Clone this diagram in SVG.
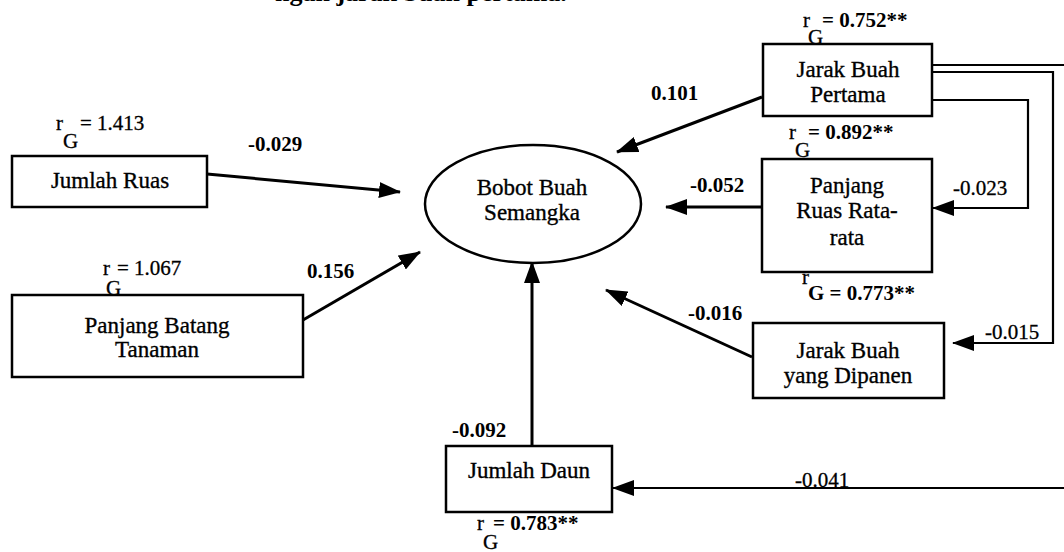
<svg xmlns="http://www.w3.org/2000/svg" width="1064" height="552" viewBox="0 0 1064 552">
<style>
.box{fill:#fff;stroke:#000;stroke-width:2.5}
.t{font-family:"Liberation Serif","Times New Roman",serif;font-size:23px;fill:#000;stroke:#000;stroke-width:0.35;text-anchor:middle}
.n{font-family:"Liberation Serif","Times New Roman",serif;font-size:21px;fill:#000;font-weight:bold}
.nn{font-family:"Liberation Serif","Times New Roman",serif;font-size:21px;fill:#000;stroke:#000;stroke-width:0.3}
.r{font-family:"Liberation Serif","Times New Roman",serif;font-size:21px;fill:#000;stroke:#000;stroke-width:0.3}
.rb{font-family:"Liberation Serif","Times New Roman",serif;font-size:21px;fill:#000;font-weight:bold}
.arr{fill:none;stroke:#000;stroke-width:3;marker-end:url(#ah)}
.arr2{fill:none;stroke:#000;stroke-width:2.2;marker-end:url(#ah)}
</style>
<defs>
<marker id="ah" markerUnits="userSpaceOnUse" markerWidth="22" markerHeight="16" refX="21" refY="8" orient="auto">
<path d="M0,0 L22,8 L0,16 z" fill="#000"/>
</marker>
</defs>
<rect width="1064" height="552" fill="#fff"/>
<text x="275" y="1" style="font-family:'Liberation Serif',serif;font-size:26px;font-weight:bold;fill:#000">ngan jarak buah pertama.</text>

<g id="connectors">
<path class="arr" d="M207,174 L400,192"/>
<path class="arr" d="M303,320 L420,252"/>
<path class="arr" d="M532,446 L532,262"/>
<path class="arr" d="M762,97 L617,152"/>
<path class="arr" d="M762,207 L666,207"/>
<path class="arr" d="M752,357 L606,290"/>
<path class="arr2" d="M932,100 L1028,100 L1028,208 L933,208"/>
<path class="arr2" d="M932,72 L1053,72 L1053,343 L953,343"/>
<path class="arr2" d="M932,65 L1070,65 L1070,488 L613,488"/>
<text class="n" x="248" y="151">-0.029</text>
<text class="n" x="307" y="278">0.156</text>
<text class="n" x="651" y="100">0.101</text>
<text class="n" x="690" y="192">-0.052</text>
<text class="n" x="688" y="320">-0.016</text>
<text class="n" x="452" y="437">-0.092</text>
<text class="nn" x="953" y="195">-0.023</text>
<text class="nn" x="985" y="339">-0.015</text>
<text class="nn" x="795" y="487">-0.041</text>
</g>

<g id="bobot">
<ellipse cx="533" cy="204" rx="108" ry="59" fill="#fff" stroke="#000" stroke-width="2.5"/>
<text class="t" x="532" y="195">Bobot Buah</text>
<text class="t" x="532" y="220">Semangka</text>
</g>

<g id="jumlah-ruas">
<rect class="box" x="12" y="156" width="195" height="51"/>
<text class="t" x="110" y="188">Jumlah Ruas</text>
<text class="r" x="56" y="130">r</text>
<text class="r" x="63" y="148">G</text>
<text class="r" x="80" y="130">= 1.413</text>
</g>

<g id="panjang-batang">
<rect class="box" x="12" y="295" width="291" height="82"/>
<text class="t" x="157" y="333">Panjang Batang</text>
<text class="t" x="157" y="357">Tanaman</text>
<text class="r" x="103" y="275">r</text>
<text class="r" x="106" y="295">G</text>
<text class="r" x="117" y="275">= 1.067</text>
</g>

<g id="jarak-buah-pertama">
<rect class="box" x="763" y="44" width="169" height="72"/>
<text class="t" x="848" y="77">Jarak Buah</text>
<text class="t" x="848" y="102">Pertama</text>
<text class="r" x="803" y="27">r</text>
<text class="r" x="808" y="44">G</text>
<text class="rb" x="822" y="27">= 0.752**</text>
<text class="r" x="789" y="139">r</text>
<text class="r" x="795" y="157">G</text>
<text class="rb" x="808" y="139">= 0.892**</text>
</g>

<g id="panjang-ruas">
<rect class="box" x="762" y="159" width="170" height="113"/>
<text class="t" x="847" y="193">Panjang</text>
<text class="t" x="847" y="218">Ruas Rata-</text>
<text class="t" x="847" y="245">rata</text>
<text class="r" x="802" y="284">r</text>
<text class="rb" x="808" y="300">G = 0.773**</text>
</g>

<g id="jarak-buah-dipanen">
<rect class="box" x="753" y="323" width="191" height="75"/>
<text class="t" x="848" y="358">Jarak Buah</text>
<text class="t" x="848" y="383">yang Dipanen</text>
</g>

<g id="jumlah-daun">
<rect class="box" x="446" y="446" width="166" height="66"/>
<text class="t" x="529" y="478">Jumlah Daun</text>
<text class="r" x="477" y="530">r</text>
<text class="r" x="483" y="549">G</text>
<text class="rb" x="493" y="530">= 0.783**</text>
</g>
</svg>
